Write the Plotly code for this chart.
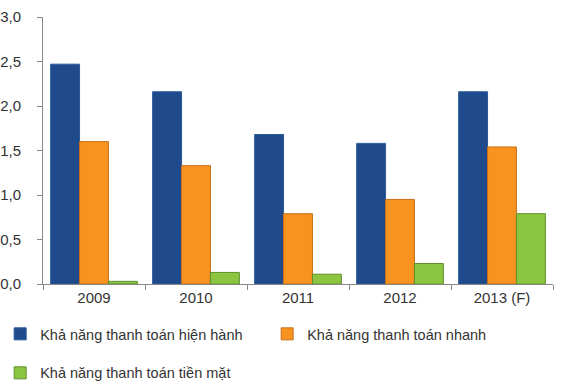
import plotly.graph_objects as go

years = ["2009", "2010", "2011", "2012", "2013 (F)"]
current_ratio = [2.47, 2.16, 1.68, 1.58, 2.16]
quick_ratio = [1.60, 1.33, 0.79, 0.95, 1.54]
cash_ratio = [0.03, 0.13, 0.11, 0.23, 0.79]

names = [
    "Khả năng thanh toán hiện hành",
    "Khả năng thanh toán nhanh",
    "Khả năng thanh toán tiền mặt",
]
fills = ["#1f4b8c", "#f7931e", "#8cc540"]
edges = ["#2a5a9a", "#c9701a", "#5f8f2a"]
legend_ids = ["legend", "legend", "legend2"]

fig = go.Figure()
for name, vals, fc, ec, lg in zip(names, [current_ratio, quick_ratio, cash_ratio], fills, edges, legend_ids):
    fig.add_trace(go.Bar(
        x=years, y=vals, name=name,
        marker=dict(color=fc, line=dict(color=ec, width=1)),
        legend=lg,
    ))

txt = "#333333"
fig.update_layout(
    width=563, height=385,
    margin=dict(l=43, r=10, t=17, b=101, autoexpand=False),
    paper_bgcolor="white", plot_bgcolor="white",
    barmode="group", bargap=0.15, bargroupgap=0,
    separators=",.",
    font=dict(family="Liberation Sans, Arial, sans-serif", size=15, color=txt),
    showlegend=True,
    xaxis=dict(
        type="category", tickson="boundaries",
        showline=True, linecolor="#888888", linewidth=1,
        ticks="outside", ticklen=5, tickcolor="#888888",
        showgrid=False, tickfont=dict(size=15, color=txt),
    ),
    yaxis=dict(
        range=[0, 3.0], dtick=0.5, tickformat=".1f",
        showline=True, linecolor="#888888", linewidth=1,
        ticks="outside", ticklen=5, tickcolor="#888888",
        ticklabelstandoff=13,
        showgrid=False, zeroline=False,
        tickfont=dict(size=15, color=txt),
    ),
    legend=dict(
        orientation="h",
        x=-0.084, xanchor="left", y=-0.187, yanchor="middle",
        entrywidth=222, itemwidth=30, font=dict(size=14.5, color=txt),
        bgcolor="rgba(0,0,0,0)",
    ),
    legend2=dict(
        orientation="h",
        x=-0.084, xanchor="left", y=-0.333, yanchor="middle",
        itemwidth=30, font=dict(size=14.5, color=txt),
        bgcolor="rgba(0,0,0,0)",
    ),
)

fig.write_html("out.html")
